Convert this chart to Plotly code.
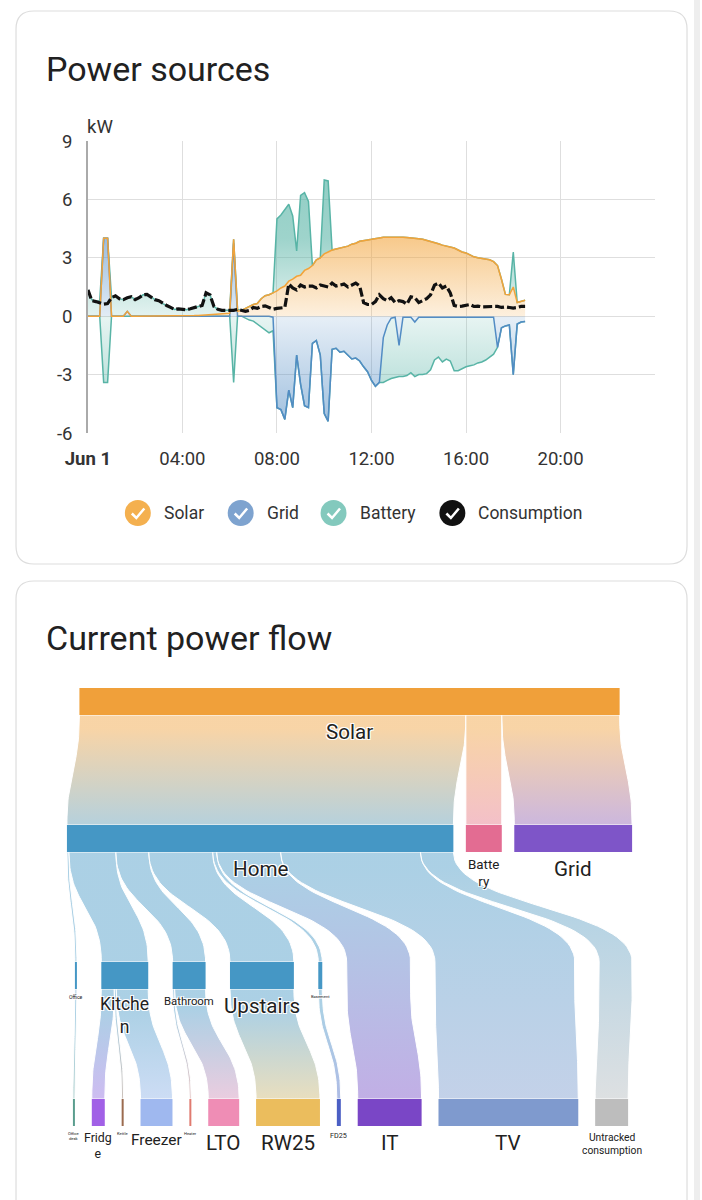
import numpy as np
import pandas as pd
import plotly.graph_objects as go

W, H = 702, 1200

# ---- power sources, kW, 10 minute samples from 00:00 to 18:30 ----
times = pd.date_range("2024-06-01 00:00", periods=112, freq="10min")

solar = [
    0, 0, 0, 0, 0, 0,
    0, 0, 0, 0, 0, 0,
    0, 0, 0, 0, 0, 0,
    0, 0, 0, 0, 0, 0,
    0, 0, 0.02, 0.03, 0.04, 0.05,
    0.06, 0.07, 0.08, 0.1, 0.12, 0.14,
    0.15, 0.2, 0.25, 0.3, 0.4, 0.5,
    0.6, 0.65, 0.9, 1.05, 1.1, 1.2,
    1.3, 1.45, 1.55, 1.8, 1.9, 2.05,
    2.1, 2.35, 2.45, 2.6, 2.9, 3.0,
    3.2, 3.3, 3.4, 3.45, 3.5, 3.55,
    3.6, 3.7, 3.75, 3.85, 3.9, 3.92,
    3.95, 4.0, 4.02, 4.05, 4.05, 4.07,
    4.08, 4.07, 4.05, 4.04, 4.03, 4.0,
    3.98, 3.95, 3.9, 3.85, 3.8, 3.72,
    3.65, 3.6, 3.55, 3.5, 3.4, 3.3,
    3.25, 3.15, 3.05, 3.0, 2.97, 2.93,
    2.9, 2.8, 2.6, 1.9, 1.12, 1.1,
    1.5, 0.7, 0.75, 0.82,
]

grid = [
    0, 0, 0, 0, 4.0, 4.0,
    0, 0, 0, 0, 0.25, 0,
    0, 0, 0, 0, 0, 0,
    0, 0, 0, 0, 0, 0,
    0, 0, 0, 0, 0, 0,
    0, 0, 0, 0, 0, 0,
    0, 3.75, 0, 0, 0, 0,
    0, 0, 0, 0, 0, -0.05,
    -4.7, -4.8, -5.3, -3.8, -4.7, -2.0,
    -3.5, -4.6, -4.7, -1.4, -1.25, -2.0,
    -5.0, -5.4, -1.7, -1.65, -1.85, -1.8,
    -2.0, -2.2, -2.15, -2.3, -2.6, -2.85,
    -3.3, -3.6, -3.4, -1.1, -0.45, -0.1,
    -0.05, -1.5, -0.05, -0.05, -0.05, -0.3,
    -0.05, -0.05, -0.05, -0.05, -0.05, -0.05,
    -0.05, -0.05, -0.05, -0.05, -0.05, -0.05,
    -0.05, -0.05, -0.05, -0.05, -0.05, -0.05,
    -0.05, -0.05, -1.6, -0.6, -0.5, -0.45,
    -3.0, -0.4, -0.3, -0.27,
]

# positive = discharging, negative = charging
battery = [
    1.35, 0.85, 0.75, 0.8, -3.4, -3.4,
    0.95, 1.05, 0.9, 0.85, 0.7, 1.0,
    0.85, 0.95, 1.1, 1.12, 1.0, 0.85,
    0.8, 0.65, 0.55, 0.45, 0.35, 0.38,
    0.35, 0.33, 0.36, 0.39, 0.46, 0.5,
    1.14, 1.03, 0.42, 0.25, 0.18, 0.16,
    0.15, -3.4, 0.1, 0, -0.1, -0.2,
    -0.25, -0.4, -0.55, -0.7, -0.85, -0.7,
    3.7, 3.75, 3.95, 3.95, 3.25, 1.3,
    4.1, 4.0, 3.45, 0, 0, 0,
    3.8, 3.65, 0, 0, 0, 0,
    0, 0, 0, 0, 0, 0,
    0, 0, 0, -2.3, -2.85, -3.1,
    -3.1, -1.6, -3.05, -3.0, -2.85, -2.8,
    -2.95, -2.95, -2.9, -2.7, -2.2, -2.05,
    -2.3, -2.15, -2.25, -2.75, -2.75, -2.65,
    -2.55, -2.5, -2.45, -2.35, -2.3, -2.2,
    -2.05, -1.9, 0, 0, 0, 0,
    1.8, 0, 0, 0,
]

consumption = [
    1.35, 0.8, 0.75, 0.7, 0.62, 0.65,
    0.95, 1.05, 0.9, 0.85, 0.95, 1.0,
    0.85, 0.95, 1.1, 1.12, 1.0, 0.85,
    0.8, 0.65, 0.55, 0.45, 0.35, 0.38,
    0.35, 0.33, 0.38, 0.42, 0.5, 0.55,
    1.2, 1.1, 0.5, 0.35, 0.3, 0.3,
    0.3, 0.3, 0.35, 0.28, 0.25, 0.3,
    0.45, 0.4, 0.5, 0.53, 0.45, 0.36,
    0.4, 0.42, 0.45, 1.65, 1.45, 1.35,
    1.6, 1.5, 1.55, 1.55, 1.45, 1.6,
    1.55, 1.5, 1.7, 1.55, 1.6, 1.65,
    1.5, 1.6, 1.7, 1.55, 0.7, 0.6,
    0.6, 0.75, 1.1, 0.9, 0.8, 0.95,
    0.7, 0.8, 0.75, 0.62, 1.0, 0.95,
    0.7, 0.8, 0.9, 1.1, 1.6, 1.7,
    1.45, 1.55, 1.2, 0.55, 0.5, 0.52,
    0.55, 0.6, 0.5, 0.52, 0.48, 0.5,
    0.52, 0.5, 0.5, 0.45, 0.48, 0.45,
    0.42, 0.45, 0.5, 0.5,
]

x_ticks = pd.date_range("2024-06-01 00:00", periods=7, freq="4h")
x_ticktext = ["<b>Jun 1</b>", "04:00", "08:00", "12:00", "16:00", "20:00", ""]
y_ticks = [-6, -3, 0, 3, 6, 9]
y_ticktext = ["-6", "-3", "0", "3", "6", "9"]

# ---- current power flow, W ----
flow_source = ["Solar", "Solar", "Solar",
               "Home", "Home", "Home", "Home", "Home", "Home", "Home", "Home",
               "Office", "Kitchen", "Kitchen", "Kitchen", "Bathroom", "Bathroom",
               "Upstairs", "Basement"]
flow_target = ["Home", "Battery", "Grid",
               "Office", "Kitchen", "Bathroom", "Upstairs", "Basement", "IT", "TV", "Untracked",
               "Office desk", "Fridge", "Kettle", "Freezer", "Heater", "LTO",
               "RW25", "FD25"]
flow_value = [1935, 180, 590,
              10, 235, 165, 320, 20, 320, 700, 165,
              10, 65, 10, 160, 10, 155,
              320, 20]

levels = [
    ["Solar"],
    ["Home", "Battery", "Grid"],
    ["Office", "Kitchen", "Bathroom", "Upstairs", "Basement"],
    ["Office desk", "Fridge", "Kettle", "Freezer", "Heater", "LTO", "RW25", "FD25", "IT", "TV", "Untracked"],
]

node_text = {"Battery": "Batte<br>ry", "Kitchen": "Kitche<br>n", "Fridge": "Fridg<br>e",
             "Office desk": "Office<br>desk", "Untracked": "Untracked<br>consumption"}

node_color = {
    "Solar": "#f0a03a", "Home": "#4597c5", "Battery": "#e36c92", "Grid": "#7e55c8",
    "Office": "#4597c5", "Kitchen": "#4597c5", "Bathroom": "#4597c5", "Upstairs": "#4597c5",
    "Basement": "#4597c5", "Office desk": "#5a9d8e", "Fridge": "#a160e6", "Kettle": "#9b6b4f",
    "Freezer": "#9fb8ef", "Heater": "#e07b70", "LTO": "#ef8db5", "RW25": "#ebbd5d",
    "FD25": "#4b5fc4", "IT": "#7a46c6", "TV": "#7f9ace", "Untracked": "#bdbdbd",
}
label_size = {
    "Solar": 20, "Home": 20, "Battery": 13, "Grid": 20, "Office": 5, "Kitchen": 17,
    "Bathroom": 11, "Upstairs": 20, "Basement": 4, "Office desk": 4, "Fridge": 12,
    "Kettle": 4, "Freezer": 15, "Heater": 4, "LTO": 20, "RW25": 20, "FD25": 7,
    "IT": 20, "TV": 20, "Untracked": 10,
}

# the page photo puts the figure at (22, 12) scaled to 680 x 1178,
# so layout positions below are given in photo pixels and mapped back
OX, OY, SX, SY = 22, 12, 680, 1178
FS = 1.03


def fx(x):
    return (x - OX) / SX


def fy(y):
    return 1 - (y - OY) / SY


def p(x, y):
    return "{:.5f},{:.5f}".format(fx(x), fy(y))


def card(x0, y0, x1, y1, r):
    path = ("M {} L {} Q {} {} L {} Q {} {} L {} Q {} {} L {} Q {} {} Z").format(
        p(x0 + r, y0), p(x1 - r, y0), p(x1, y0), p(x1, y0 + r), p(x1, y1 - r), p(x1, y1), p(x1 - r, y1),
        p(x0 + r, y1), p(x0, y1), p(x0, y1 - r), p(x0, y0 + r), p(x0, y0), p(x0 + r, y0))
    return dict(type="path", xref="paper", yref="paper", path=path, layer="below",
                line=dict(color="#dddddd", width=1.2), fillcolor="white")


def rgba(c, a):
    if isinstance(c, str):
        c = tuple(int(c[i:i + 2], 16) for i in (1, 3, 5))
    return "rgba({},{},{},{})".format(c[0], c[1], c[2], a)


SOLAR = (242, 163, 57)
GRID = (82, 140, 196)
BATTERY = (88, 180, 166)


def band_gradient(c):
    return dict(type="vertical", start=-6, stop=9,
                colorscale=[[0, rgba(c, 0.6)], [0.4, rgba(c, 0.15)], [0.67, rgba(c, 0.58)], [1, rgba(c, 0.7)]])


fig = go.Figure()

s = np.array(solar)
g = np.array(grid)
b = np.array(battery)
gp = np.clip(g, 0, None)
gn = np.clip(g, None, 0)


def base(y):
    return go.Scatter(x=times, y=y, mode="lines", line=dict(width=0), hoverinfo="skip", showlegend=False)


fig.add_trace(base(gp + s))
fig.add_trace(go.Scatter(x=times, y=gp + s + np.clip(b, 0, None), mode="lines", name="Battery",
                         line=dict(color=rgba(BATTERY, 1), width=1.5), fill="tonexty",
                         fillgradient=band_gradient(BATTERY)))
fig.add_trace(base(gn))
fig.add_trace(go.Scatter(x=times, y=gn + np.clip(b, None, 0), mode="lines", name="Battery",
                         line=dict(color=rgba(BATTERY, 1), width=1.5), fill="tonexty",
                         fillgradient=band_gradient(BATTERY)))
fig.add_trace(go.Scatter(x=times, y=g, mode="lines", name="Grid",
                         line=dict(color=rgba(GRID, 1), width=1.5), fill="tozeroy",
                         fillgradient=band_gradient(GRID)))
fig.add_trace(base(gp))
fig.add_trace(go.Scatter(x=times, y=gp + s, mode="lines", name="Solar",
                         line=dict(color=rgba(SOLAR, 1), width=1.5), fill="tonexty",
                         fillgradient=band_gradient(SOLAR)))
fig.add_trace(go.Scatter(x=times, y=consumption, mode="lines", name="Consumption",
                         line=dict(color="#111111", width=3.2, dash="9px,3px")))

# ---- sankey drawn on its own pixel axes ----
SCALE = 0.2
NODE_H = 27
LEVEL_TOP = 689
LEVEL_STEP = 137
level_span = [(76, 622), (66, 632), (74, 632), (72, 628)]

inflow, outflow = {}, {}
for a, t, v in zip(flow_source, flow_target, flow_value):
    outflow[a] = outflow.get(a, 0) + v
    inflow[t] = inflow.get(t, 0) + v

level_of = {n: li for li, names in enumerate(levels) for n in names}

# links that skip a level pass through the level in between
slots = [list(names) for names in levels]
for a, t in zip(flow_source, flow_target):
    for li in range(level_of[a] + 1, level_of[t]):
        slots[li].append((a, t))


def size(n):
    if isinstance(n, tuple):
        return flow_value[list(zip(flow_source, flow_target)).index(n)] * SCALE
    return max(inflow.get(n, 0), outflow.get(n, 0)) * SCALE


pos = {}
for li, names in enumerate(slots):
    widths = [size(n) for n in names]
    lo, hi = level_span[li]
    y0 = LEVEL_TOP + li * LEVEL_STEP
    if len(names) == 1:
        x = (lo + hi - widths[0]) / 2
        gap = 0
    else:
        x = lo
        gap = (hi - lo - sum(widths)) / (len(names) - 1)
    for n, w in zip(names, widths):
        pos[n] = (x, x + w, y0, y0 + NODE_H)
        x += w + gap

out_off = {n: v[0] for n, v in pos.items()}
in_off = {n: v[0] for n, v in pos.items()}
tt = np.linspace(0, 1, 40)


def bez(a, c, q, d):
    return (1 - tt) ** 3 * a + 3 * (1 - tt) ** 2 * tt * c + 3 * (1 - tt) * tt ** 2 * q + tt ** 3 * d


def curve(x0, y0, x1, y1):
    ym = (y0 + y1) / 2
    return bez(x0, x0, x1, x1), bez(y0, ym, ym, y1)


for a, t, v in zip(flow_source, flow_target, flow_value):
    w = v * SCALE
    sx = out_off[a]
    out_off[a] += w
    tx = in_off[t]
    in_off[t] += w
    # chain of stops: source bottom, pass-through slots, target top
    stops = [(sx, pos[a][3])]
    for li in range(level_of[a] + 1, level_of[t]):
        px0, _, py0, py1 = pos[(a, t)]
        stops += [(px0, py0), (px0, py1)]
    stops.append((tx, pos[t][2]))
    lx, ly = [], []
    for k in range(len(stops) - 1):
        (x0, y0), (x1, y1) = stops[k], stops[k + 1]
        cx, cy = curve(x0, y0, x1, y1)
        lx.append(cx)
        ly.append(cy)
    lx = np.concatenate(lx)
    ly = np.concatenate(ly)
    xs = np.concatenate([lx, (lx + w)[::-1], [lx[0]]])
    yy = np.concatenate([ly, ly[::-1], [ly[0]]])
    ys, yt = stops[0][1], stops[-1][1]
    fig.add_trace(go.Scatter(
        x=xs, y=yy, xaxis="x2", yaxis="y2", mode="lines", fill="toself",
        line=dict(color="white", width=1), hoverinfo="skip", showlegend=False,
        fillgradient=dict(type="vertical", start=ys, stop=yt,
                          colorscale=[[0, rgba(node_color[a], 0.45)], [1, rgba(node_color[t], 0.45)]])))

annotations = []
for names in levels:
    for n in names:
        x0, x1, y0, y1 = pos[n]
        fig.add_trace(go.Scatter(
            x=[x0, x1, x1, x0, x0], y=[y0, y0, y1, y1, y0], xaxis="x2", yaxis="y2", mode="lines",
            fill="toself", fillcolor=node_color[n], line=dict(width=0), hoverinfo="skip", showlegend=False))
        annotations.append(dict(
            x=(x0 + x1) / 2, y=y1 + 3, xref="x2", yref="y2", xanchor="center", yanchor="top",
            text=node_text.get(n, n), showarrow=False,
            font=dict(size=label_size[n] * FS, color="#212121",
                      shadow="-1px -1px 0 #fff, 1px -1px 0 #fff, -1px 1px 0 #fff, 1px 1px 0 #fff")))

# ---- titles, unit and legend ----
annotations += [
    dict(x=fx(43), y=fy(70), xref="paper", yref="paper", xanchor="left", yanchor="middle",
         text="Power sources", showarrow=False, font=dict(size=34, color="#212121")),
    dict(x=fx(43), y=fy(639), xref="paper", yref="paper", xanchor="left", yanchor="middle",
         text="Current power flow", showarrow=False, font=dict(size=34, color="#212121")),
    dict(x=fx(84), y=fy(128), xref="paper", yref="paper", xanchor="left", yanchor="middle",
         text="kW", showarrow=False, font=dict(size=18 * FS, color="#333333")),
]

shapes = [card(15, 12, 687, 565, 18), card(15, 582, 687, 1240, 18),
          dict(type="rect", xref="paper", yref="paper", x0=fx(694), x1=fx(700), y0=-0.02, y1=1.02,
               line=dict(width=0), fillcolor="#eeeeee", layer="below")]

legend_items = [("Solar", "#f4b04f"), ("Grid", "#7ea3cf"), ("Battery", "#83c9bd"), ("Consumption", "#111111")]
legend_cx = [137, 240, 333, 452]
LY, R = 514, 13
for (name, col), cx in zip(legend_items, legend_cx):
    shapes.append(dict(type="circle", xref="paper", yref="paper",
                       x0=fx(cx - R), x1=fx(cx + R), y0=fy(LY + R), y1=fy(LY - R),
                       fillcolor=col, line=dict(width=0)))
    shapes.append(dict(type="path", xref="paper", yref="paper",
                       path="M {} L {} L {}".format(p(cx - 6, LY + 0.5), p(cx - 1.5, LY + 5), p(cx + 6.5, LY - 4.5)),
                       line=dict(color="white", width=2.5)))
    annotations.append(dict(x=fx(cx + 24), y=fy(LY), xref="paper", yref="paper",
                            xanchor="left", yanchor="middle", text=name, showarrow=False,
                            font=dict(size=17 * FS, color="#333333")))

fig.update_layout(
    width=W, height=H, margin=dict(l=0, r=0, t=0, b=0),
    paper_bgcolor="white", plot_bgcolor="rgba(0,0,0,0)", showlegend=False,
    font=dict(family="Roboto", color="#212121"),
    shapes=shapes, annotations=annotations,
    xaxis=dict(domain=[fx(87), fx(655)], type="date",
               range=["2024-06-01 00:00", "2024-06-02 00:00"],
               tickvals=x_ticks, ticktext=x_ticktext, tickfont=dict(size=18 * FS, color="#333333"),
               showgrid=True, gridcolor="#dedede", gridwidth=1, zeroline=False,
               ticklabelstandoff=12, fixedrange=True),
    yaxis=dict(domain=[fy(434), fy(142)], range=[-6, 9], tickvals=y_ticks, ticktext=y_ticktext,
               tickfont=dict(size=18 * FS, color="#333333"), showgrid=True, gridcolor="#dedede",
               zeroline=False, showline=True, linecolor="#aaaaaa", linewidth=1.5,
               ticklabelstandoff=10),
    xaxis2=dict(domain=[0, 1], range=[OX, OX + SX], visible=False, anchor="y2"),
    yaxis2=dict(domain=[0, 1], range=[OY + SY, OY], visible=False, anchor="x2"),
)

fig.write_html("out.html", config={"displayModeBar": False},
               post_script="document.body.style.margin='0';")
